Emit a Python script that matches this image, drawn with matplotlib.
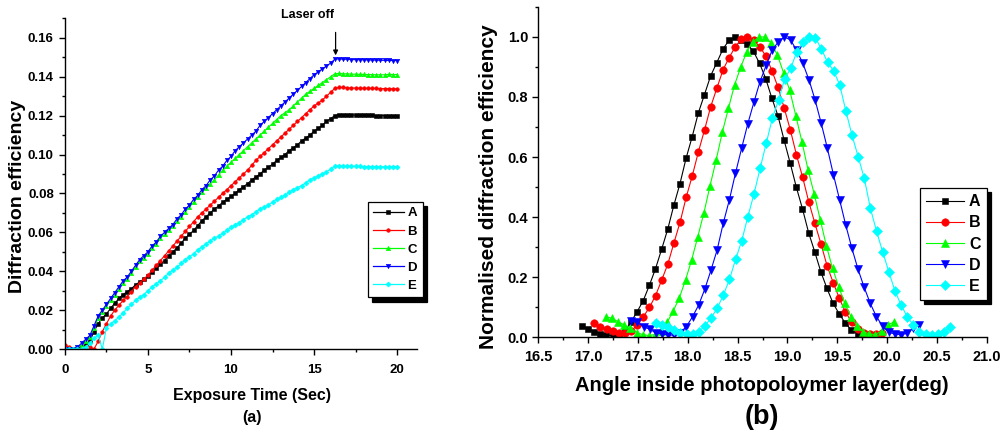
import numpy as np
import matplotlib
matplotlib.use("Agg")
import matplotlib.pyplot as plt
from matplotlib.ticker import MultipleLocator, FormatStrFormatter

plt.rcParams['font.family'] = ['Liberation Sans', 'DejaVu Sans']
plt.rcParams['font.weight'] = 'bold'

# ---------------- panel (a): growth curves ----------------
t = np.arange(0, 20.001, 0.25)

eff_A = [0.000, 0.000, 0.000, 0.000, 0.001, 0.002, 0.004, 0.009, 0.013, 0.016,
         0.018, 0.021, 0.0235, 0.026, 0.028, 0.0295, 0.031, 0.033, 0.0345, 0.036,
         0.0375, 0.0395, 0.0415, 0.0435, 0.0455, 0.048, 0.050, 0.052, 0.0545, 0.057,
         0.059, 0.061, 0.0635, 0.066, 0.068, 0.070, 0.072, 0.0735, 0.0755, 0.077,
         0.0785, 0.080, 0.082, 0.0835, 0.085, 0.087, 0.0885, 0.090, 0.092, 0.0935,
         0.095, 0.097, 0.0985, 0.100, 0.102, 0.1035, 0.105, 0.107, 0.1085, 0.110,
         0.112, 0.1135, 0.115, 0.117, 0.1185, 0.120, 0.1205, 0.1205, 0.1204, 0.1203,
         0.1203, 0.1202, 0.1202, 0.1201, 0.1201, 0.120, 0.120, 0.120, 0.1199, 0.1199,
         0.1199]
eff_B = [0.002, 0.001, 0.000, 0.000, 0.000, 0.000, 0.001, 0.000, 0.004, 0.009,
         0.013, 0.017, 0.020, 0.0225, 0.025, 0.027, 0.0295, 0.032, 0.034, 0.036,
         0.038, 0.0405, 0.043, 0.0455, 0.048, 0.0505, 0.053, 0.0555, 0.058, 0.0605,
         0.063, 0.0655, 0.068, 0.070, 0.072, 0.074, 0.076, 0.078, 0.080, 0.082,
         0.084, 0.086, 0.088, 0.090, 0.092, 0.0945, 0.097, 0.099, 0.101, 0.103,
         0.105, 0.107, 0.109, 0.111, 0.113, 0.115, 0.117, 0.119, 0.121, 0.123,
         0.125, 0.1265, 0.128, 0.130, 0.132, 0.134, 0.1345, 0.1345, 0.1343, 0.1342,
         0.1342, 0.1341, 0.1341, 0.134, 0.134, 0.134, 0.1339, 0.1339, 0.1339, 0.1338,
         0.1338]
eff_C = [0.000, 0.000, 0.000, 0.001, 0.002, 0.004, 0.006, 0.011, 0.016, 0.019,
         0.022, 0.025, 0.028, 0.031, 0.034, 0.036, 0.039, 0.042, 0.045, 0.047,
         0.049, 0.052, 0.054, 0.057, 0.059, 0.061, 0.063, 0.066, 0.068, 0.0705,
         0.073, 0.0755, 0.078, 0.0805, 0.083, 0.085, 0.087, 0.0895, 0.092, 0.094,
         0.096, 0.098, 0.100, 0.102, 0.104, 0.106, 0.108, 0.110, 0.112, 0.114,
         0.116, 0.118, 0.120, 0.1215, 0.123, 0.125, 0.127, 0.129, 0.131, 0.1325,
         0.134, 0.1355, 0.137, 0.1385, 0.140, 0.1415, 0.1417, 0.1415, 0.1415, 0.1413,
         0.1413, 0.1412, 0.1412, 0.1411, 0.1411, 0.141, 0.141, 0.141, 0.1412, 0.1411,
         0.1411]
eff_D = [0.000, 0.000, 0.000, 0.001, 0.003, 0.005, 0.007, 0.012, 0.017, 0.020,
         0.023, 0.026, 0.029, 0.032, 0.035, 0.037, 0.040, 0.043, 0.046, 0.048,
         0.050, 0.053, 0.055, 0.058, 0.060, 0.062, 0.064, 0.067, 0.069, 0.072,
         0.074, 0.077, 0.079, 0.082, 0.084, 0.087, 0.089, 0.092, 0.094, 0.097,
         0.099, 0.102, 0.104, 0.106, 0.108, 0.110, 0.112, 0.115, 0.117, 0.119,
         0.121, 0.123, 0.125, 0.127, 0.129, 0.131, 0.133, 0.135, 0.137, 0.139,
         0.141, 0.1425, 0.144, 0.1455, 0.147, 0.149, 0.1492, 0.149, 0.149, 0.1488,
         0.1488, 0.1487, 0.1487, 0.1486, 0.1486, 0.1485, 0.1485, 0.1484, 0.1484, 0.1483,
         0.1483]
eff_E = [0.000, 0.000, 0.000, 0.000, 0.000, 0.001, 0.003, 0.0055, 0.007, 0.000,
         0.011, 0.013, 0.0145, 0.0165, 0.0185, 0.021, 0.023, 0.025, 0.0265, 0.028,
         0.030, 0.032, 0.0335, 0.035, 0.037, 0.039, 0.0405, 0.042, 0.044, 0.046,
         0.0475, 0.049, 0.051, 0.0525, 0.054, 0.0555, 0.057, 0.058, 0.0595, 0.061,
         0.0625, 0.064, 0.065, 0.0665, 0.068, 0.069, 0.0705, 0.072, 0.073, 0.074,
         0.0755, 0.077, 0.078, 0.079, 0.0805, 0.082, 0.083, 0.084, 0.0855, 0.087,
         0.088, 0.089, 0.090, 0.091, 0.0925, 0.094, 0.0942, 0.094, 0.094, 0.0939,
         0.0939, 0.0939, 0.0938, 0.0938, 0.0938, 0.0938, 0.0937, 0.0937, 0.0937, 0.0937,
         0.0937]

# ---------------- panel (b): angular selectivity ----------------
step = 0.0614
start_A, start_B, start_C, start_D, start_E = 16.94, 17.064, 17.18, 17.435, 17.682

norm_A = [0.037, 0.026, 0.018, 0.011, 0.007, 0.004, 0.004, 0.02, 0.05, 0.084,
          0.121, 0.172, 0.227, 0.292, 0.359, 0.439, 0.511, 0.596, 0.668, 0.747,
          0.808, 0.870, 0.914, 0.959, 0.989, 1.0, 0.99, 0.975, 0.952, 0.912,
          0.861, 0.796, 0.737, 0.656, 0.579, 0.499, 0.427, 0.348, 0.284, 0.217,
          0.162, 0.112, 0.077, 0.046, 0.023, 0.010, 0.004, 0.003]
norm_B = [0.046, 0.034, 0.026, 0.019, 0.014, 0.013, 0.02, 0.04, 0.067, 0.099,
          0.138, 0.19, 0.243, 0.314, 0.383, 0.466, 0.538, 0.618, 0.691, 0.768,
          0.829, 0.890, 0.931, 0.967, 0.993, 1.0, 0.99, 0.967, 0.937, 0.887,
          0.832, 0.763, 0.69, 0.607, 0.533, 0.451, 0.379, 0.31, 0.237, 0.181,
          0.129, 0.082, 0.051, 0.026, 0.012, 0.009, 0.01, 0.012]
norm_C = [0.068, 0.062, 0.051, 0.04, 0.03, 0.015, 0.008, 0.005, 0.008, 0.02,
          0.049, 0.087, 0.131, 0.19, 0.257, 0.334, 0.414, 0.504, 0.59, 0.682,
          0.762, 0.84, 0.899, 0.951, 0.984, 1.0, 1.0, 0.979, 0.94, 0.881,
          0.823, 0.738, 0.651, 0.557, 0.477, 0.39, 0.303, 0.229, 0.168, 0.112,
          0.068, 0.037, 0.018, 0.01, 0.008, 0.02, 0.04, 0.05]
norm_D = [0.054, 0.049, 0.034, 0.026, 0.014, 0.01, 0.007, 0.006, 0.015, 0.035,
          0.068, 0.107, 0.16, 0.223, 0.29, 0.379, 0.457, 0.546, 0.629, 0.71,
          0.782, 0.851, 0.905, 0.957, 0.984, 1.0, 0.99, 0.955, 0.912, 0.857,
          0.79, 0.712, 0.629, 0.54, 0.457, 0.373, 0.296, 0.226, 0.166, 0.112,
          0.068, 0.037, 0.016, 0.01, 0.008, 0.012, 0.029, 0.04]
norm_E = [0.046, 0.04, 0.032, 0.023, 0.012, 0.009, 0.009, 0.018, 0.037, 0.064,
          0.096, 0.14, 0.192, 0.259, 0.321, 0.401, 0.477, 0.562, 0.646, 0.729,
          0.79, 0.86, 0.896, 0.951, 0.984, 1.0, 0.998, 0.96, 0.916, 0.887,
          0.84, 0.753, 0.673, 0.601, 0.529, 0.429, 0.353, 0.284, 0.218, 0.154,
          0.107, 0.068, 0.04, 0.018, 0.009, 0.007, 0.009, 0.018, 0.034]

labels = ["A", "B", "C", "D", "E"]
colors = ["#000000", "#ff0000", "#00ff00", "#0000ff", "#00ffff"]
markers = ["s", "o", "^", "v", "D"]

fig = plt.figure(figsize=(10.04, 4.32), dpi=100)


def style_axes(ax, lab_size, pad):
    for side in ("top", "right"):
        ax.spines[side].set_visible(False)
    for side in ("left", "bottom"):
        ax.spines[side].set_linewidth(1.0)
    ax.tick_params(which="major", direction="out", length=4, width=1.0,
                   labelsize=lab_size, pad=pad)
    ax.tick_params(which="minor", direction="out", length=2.5, width=1.0)
    for lab in ax.get_xticklabels() + ax.get_yticklabels():
        lab.set_fontweight("bold")


# ---- (a) ----
ax1 = fig.add_axes([0.0647, 0.1921, 0.3506, 0.7653])
series_a = [eff_A, eff_B, eff_C, eff_D, eff_E]
for y, lab, c, m in zip(series_a, labels, colors, markers):
    ms = 3.2 if m in ("^", "v") else 2.6
    ax1.plot(t, y, color=c, marker=m, markersize=ms, linewidth=0.8,
             markeredgewidth=0.4, label=lab, linestyle="-")
ax1.set_xlim(0, 21.2)
ax1.set_ylim(0, 0.17)
ax1.set_xticks([0, 5, 10, 15, 20])
ax1.xaxis.set_minor_locator(MultipleLocator(2.5))
ax1.set_yticks(np.arange(0, 0.161, 0.02))
ax1.yaxis.set_minor_locator(MultipleLocator(0.01))
ax1.yaxis.set_major_formatter(FormatStrFormatter("%.2f"))
style_axes(ax1, 9.5, 4)
ax1.tick_params(axis="x", pad=6.5)

leg1 = ax1.legend(loc="upper left", bbox_to_anchor=(0.861, 0.445),
                  borderaxespad=0, handlelength=2.3,
                  handletextpad=0.3, labelspacing=0.45, borderpad=0.4,
                  fancybox=False, framealpha=1, edgecolor="black",
                  shadow={"ox": 3, "oy": -3, "color": "black", "alpha": 1},
                  prop={"weight": "bold", "size": 9.5})
leg1.get_frame().set_linewidth(0.9)
for h in leg1.legend_handles:
    h.set_linewidth(0.9)

# laser-off marker: vertical arrow above the kink, label up and to the left
ax1.annotate("", xy=(16.3, 0.151), xytext=(16.3, 0.1628),
             annotation_clip=False,
             arrowprops=dict(arrowstyle="-|>", color="black", lw=0.9,
                             shrinkA=0, shrinkB=0, mutation_scale=7))
ax1.text(14.6, 0.1717, "Laser off", ha="center", va="center", fontsize=9,
         fontweight="bold", clip_on=False)

fig.text(0.0179, 0.546, "Diffraction efficiency", rotation=90, ha="center",
         va="center", fontsize=14, fontweight="bold")
fig.text(0.251, 0.0856, "Exposure Time (Sec)", ha="center", va="center",
         fontsize=11.5, fontweight="bold")
fig.text(0.251, 0.0347, "(a)", ha="center", va="center", fontsize=11.5,
         fontweight="bold")

# ---- (b) ----
ax2 = fig.add_axes([0.5359, 0.2199, 0.4472, 0.7639])
series_b = [(start_A, norm_A), (start_B, norm_B), (start_C, norm_C),
            (start_D, norm_D), (start_E, norm_E)]
for (x0, y), lab, c, m in zip(series_b, labels, colors, markers):
    x = x0 + step * np.arange(len(y))
    ms = {"s": 4.8, "o": 5.4, "^": 5.8, "v": 5.8, "D": 4.6}[m]
    ax2.plot(x, y, color=c, marker=m, markersize=ms, linewidth=0.8,
             markeredgewidth=0.4, label=lab)
ax2.set_xlim(16.5, 21.0)
ax2.set_ylim(0, 1.1)
ax2.set_xticks(np.arange(16.5, 21.01, 0.5))
ax2.xaxis.set_minor_locator(MultipleLocator(0.25))
ax2.xaxis.set_major_formatter(FormatStrFormatter("%.1f"))
ax2.set_yticks(np.arange(0, 1.01, 0.2))
ax2.yaxis.set_minor_locator(MultipleLocator(0.1))
ax2.yaxis.set_major_formatter(FormatStrFormatter("%.1f"))
style_axes(ax2, 10.5, 3)
ax2.tick_params(axis="x", pad=5)

leg2 = ax2.legend(loc="upper right", bbox_to_anchor=(1.0, 0.4515),
                  borderaxespad=0, handlelength=2.4, handletextpad=0.3,
                  labelspacing=0.38, borderpad=0.4, fancybox=False,
                  framealpha=1, edgecolor="black",
                  shadow={"ox": 3, "oy": -3, "color": "black", "alpha": 1},
                  prop={"weight": "bold", "size": 11.5})
leg2.get_frame().set_linewidth(0.9)

fig.text(0.487, 0.569, "Normalised diffraction efficiency", rotation=90,
         ha="center", va="center", fontsize=15, fontweight="bold")
fig.text(0.759, 0.1065, "Angle inside photopoloymer layer(deg)", ha="center",
         va="center", fontsize=14.5, fontweight="bold")
fig.text(0.759, 0.0347, "(b)", ha="center", va="center", fontsize=19.5,
         fontweight="bold")

fig.savefig("out.png", dpi=100)
